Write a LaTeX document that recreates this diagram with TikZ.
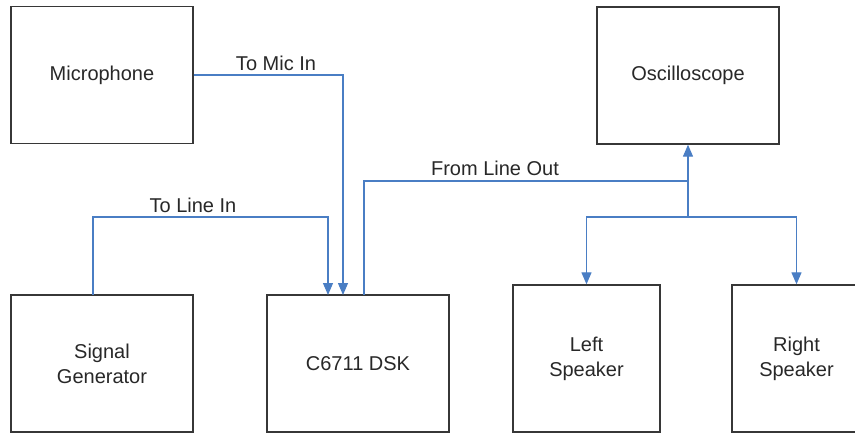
\documentclass[tikz,border=0pt]{standalone}
\usepackage{fontspec}
\setmainfont{Liberation Sans}
\usetikzlibrary{arrows.meta}
\definecolor{wireblue}{RGB}{74,126,196}
\definecolor{boxgray}{RGB}{55,55,55}
\definecolor{txtgray}{RGB}{40,40,40}
\begin{document}
\begin{tikzpicture}[x=1pt,y=-1pt,
  blockbox/.style={draw=boxgray,line width=1.4pt,fill=white,minimum width=182pt,minimum height=137pt,inner sep=0pt,align=center,text=txtgray,font=\fontsize{20}{25}\selectfont},
  wire/.style={draw=wireblue,line width=1.3pt},
  warrow/.style={wire,-{Triangle[length=12pt,width=10pt]}},
  lbl/.style={text=txtgray,font=\fontsize{20}{24}\selectfont,inner sep=0pt}]
\useasboundingbox (0,0) rectangle (855,433);
\clip (0,0) rectangle (855,433);
\fill[white] (0,0) rectangle (855,433);
% blocks
\node[blockbox] (mic) at (102,75) {Microphone};
\node[blockbox] (osc) at (688,75.5) {Oscilloscope};
\node[blockbox] (sig) at (102,363.5) {Signal\\Generator};
\node[blockbox] (dsk) at (358,363.5) {C6711 DSK};
\node[blockbox,minimum width=147pt,minimum height=147pt] (lsp) at (586.5,358.5) {Left\\Speaker};
\node[blockbox,minimum width=129pt,minimum height=147pt] (rsp) at (796.5,358.5) {Right\\Speaker};
% connection points
\coordinate (dsklin) at (328,295);
\coordinate (dskmic) at (343,295);
\coordinate (dskout) at (364,295);
\coordinate (sigout) at (93,295);
\coordinate (j1) at (688,181);
\coordinate (j2) at (688,217);
% connectors
\draw[warrow] (mic.east) -| (dskmic);
\draw[warrow] (sigout) -- ++(0,-78) -| (dsklin);
\draw[wire] (dskout) |- (j1);
\draw[warrow] (j1) -- (osc.south);
\draw[wire] (j1) -- (j2);
\draw[warrow] (j2) -| (lsp.north);
\draw[warrow] (j2) -| (rsp.north);
% labels
\node[lbl] (lmic) at (276,63) {To Mic In};
\node[lbl] (llin) at (193,205) {To Line In};
\node[lbl] (lout) at (495,168) {From Line Out};
\end{tikzpicture}
\end{document}
